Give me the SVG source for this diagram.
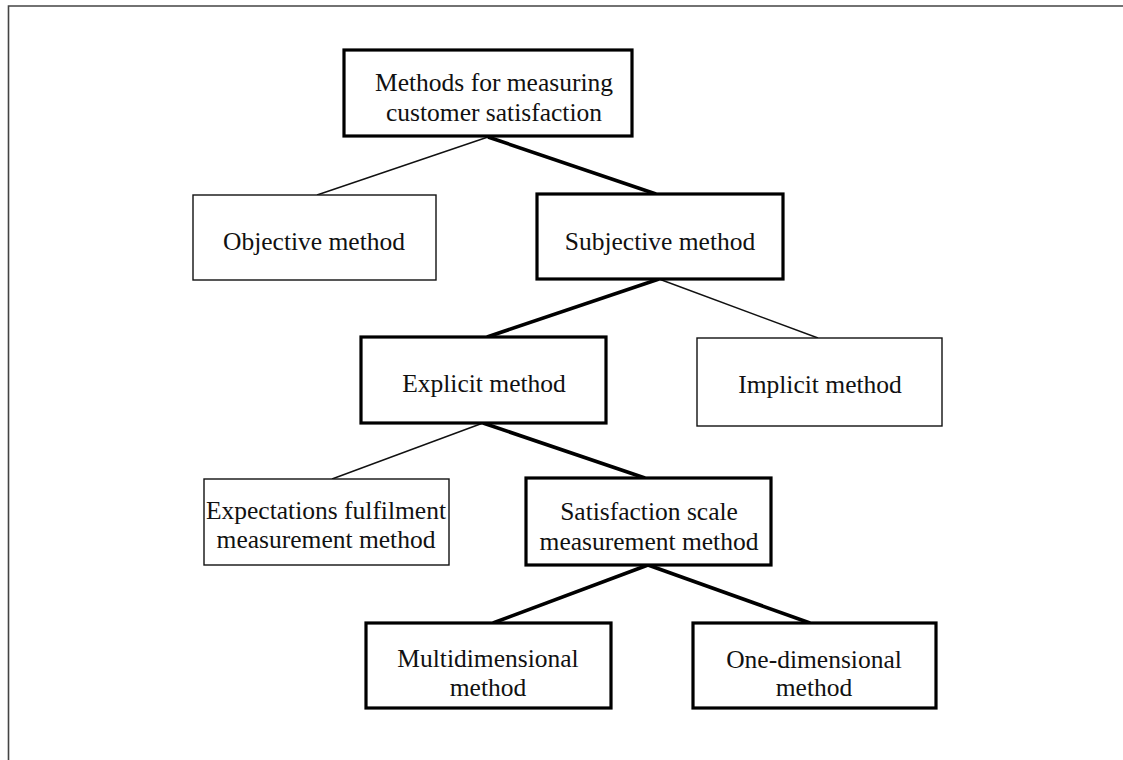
<svg xmlns="http://www.w3.org/2000/svg" width="1123" height="760" viewBox="0 0 1123 760">
<style>
  .bg { fill: #ffffff; }
  .frame { fill: none; stroke: #444444; stroke-width: 1.6; }
  .thin { fill: #ffffff; stroke: #111111; stroke-width: 1.4; }
  .thick { fill: #ffffff; stroke: #000000; stroke-width: 3.2; }
  .c-thin { stroke: #111111; stroke-width: 1.4; fill: none; }
  .c-thick { stroke: #000000; stroke-width: 3.6; fill: none; }
  text { font-family: "Liberation Serif", "Times New Roman", serif; font-size: 25.5px; fill: #111111; text-anchor: middle; }
</style>
<rect class="bg" x="0" y="0" width="1123" height="760"/>
<path class="frame" d="M8.5,760 V6 H1123"/>
<g id="connectors">
  <line class="c-thin" x1="488" y1="137" x2="317" y2="195"/>
  <line class="c-thick" x1="488" y1="137" x2="656" y2="194"/>
  <line class="c-thick" x1="659" y1="279" x2="487" y2="337"/>
  <line class="c-thin" x1="659" y1="279" x2="818" y2="338"/>
  <line class="c-thin" x1="483" y1="423" x2="332" y2="479"/>
  <line class="c-thick" x1="483" y1="423" x2="645" y2="478"/>
  <line class="c-thick" x1="648" y1="565" x2="493" y2="623"/>
  <line class="c-thick" x1="648" y1="565" x2="810" y2="623"/>
</g>
<g id="root">
  <rect class="thick" x="344" y="50" width="288" height="86"/>
  <text x="494" y="91">Methods for measuring</text>
  <text x="494" y="121">customer satisfaction</text>
</g>
<g id="objective">
  <rect class="thin" x="193" y="195" width="243" height="85"/>
  <text x="314" y="250">Objective method</text>
</g>
<g id="subjective">
  <rect class="thick" x="537" y="194" width="246" height="85"/>
  <text x="660" y="250">Subjective method</text>
</g>
<g id="explicit">
  <rect class="thick" x="361" y="337" width="245" height="86"/>
  <text x="484" y="392">Explicit method</text>
</g>
<g id="implicit">
  <rect class="thin" x="697" y="338" width="245" height="88"/>
  <text x="820" y="393">Implicit method</text>
</g>
<g id="expectations">
  <rect class="thin" x="204" y="479" width="245" height="86"/>
  <text x="326" y="519">Expectations fulfilment</text>
  <text x="326" y="548">measurement method</text>
</g>
<g id="satisfaction">
  <rect class="thick" x="526" y="478" width="245" height="87"/>
  <text x="649" y="520">Satisfaction scale</text>
  <text x="649" y="550">measurement method</text>
</g>
<g id="multidimensional">
  <rect class="thick" x="366" y="623" width="245" height="85"/>
  <text x="488" y="667">Multidimensional</text>
  <text x="488" y="696">method</text>
</g>
<g id="onedimensional">
  <rect class="thick" x="693" y="623" width="243" height="85"/>
  <text x="814" y="668">One-dimensional</text>
  <text x="814" y="696">method</text>
</g>
</svg>
